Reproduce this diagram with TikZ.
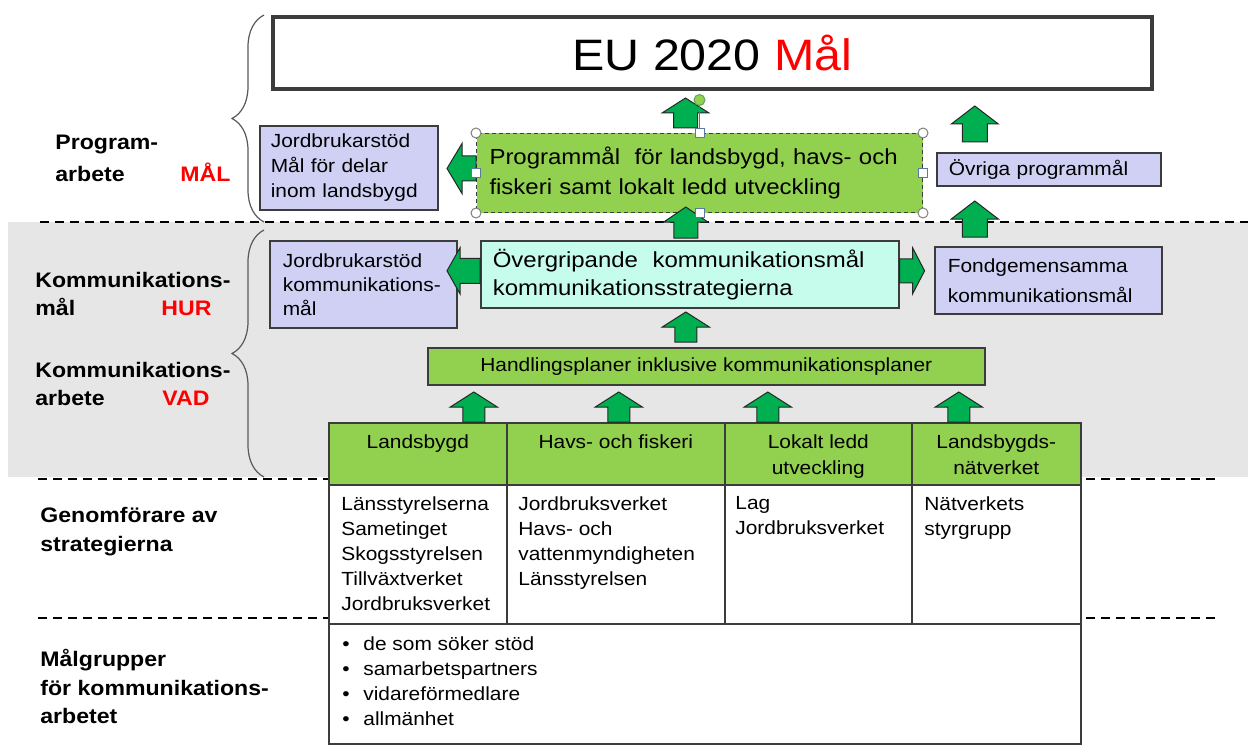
\documentclass[tikz,border=0pt]{standalone}
\usepackage{fontspec}
\setmainfont[FakeStretch=1.1]{Liberation Sans}
\usetikzlibrary{decorations.pathreplacing,calc}
\definecolor{lgreen}{HTML}{92D050}
\definecolor{agreen}{HTML}{00B050}
\definecolor{lav}{RGB}{208,208,245}
\definecolor{mint}{RGB}{198,252,236}
\definecolor{band}{RGB}{230,230,230}
\definecolor{edge}{RGB}{60,60,60}
\definecolor{handleblue}{RGB}{90,120,160}
\newcommand\fsSmall{\fontsize{9.5}{12.5}\selectfont}
\begin{document}
\begin{tikzpicture}[x=0.5pt,y=-0.5pt,
  box/.style={draw=edge, line width=0.8pt, rectangle, inner ysep=0pt, align=left, anchor=north west},
  lavbox/.style={box, fill=lav, font=\fsSmall},
  cell/.style={draw=edge, line width=0.8pt, rectangle, inner sep=0pt, anchor=north west, minimum height=#1},
  lab/.style={font=\bfseries\fontsize{10.5}{14}\selectfont, align=left, inner sep=0pt, anchor=north west},
  redlab/.style={font=\bfseries\fontsize{10.5}{14}\selectfont, text=red, inner sep=0pt, anchor=base west},
  ctext/.style={font=\fsSmall, align=left, inner sep=0pt, anchor=north west},
  htext/.style={font=\fontsize{9.5}{13}\selectfont, align=center, inner sep=0pt, anchor=north},
  sepline/.style={line width=1.4pt, dash pattern=on 4.5pt off 3pt},
  bracesty/.style={draw=edge!85, line width=0.6pt, decorate, decoration={brace, amplitude=16pt}},
  arrowsty/.style={fill=agreen, draw=black!85, line width=0.5pt, line join=miter},
  hcirc/.style={draw=gray, fill=white, line width=0.5pt},
  hsq/.style={draw=handleblue, fill=white, line width=0.5pt, rectangle, minimum size=4.5pt, inner sep=0pt},
  pics/uparr/.style n args={4}{code={\path[arrowsty] (-#2,0) -- (-#2,-#4) -- (-#1,-#4) -- (0,-#3) -- (#1,-#4) -- (#2,-#4) -- (#2,0) -- cycle;}},
  pics/larr/.style n args={4}{code={\path[arrowsty] (0,-#4) -- (-#2,-#4) -- (-#2,-#3) -- (-#1,0) -- (-#2,#3) -- (-#2,#4) -- (0,#4) -- cycle;}},
  pics/rarr/.style n args={4}{code={\path[arrowsty] (0,-#4) -- (#2,-#4) -- (#2,-#3) -- (#1,0) -- (#2,#3) -- (#2,#4) -- (0,#4) -- cycle;}}
]
\useasboundingbox (0,0) rectangle (1248,749);

% grey band
\fill[band] (8,222) rectangle (1248,477);

% separators
\draw[sepline] (40,222) -- (1248,222);
\draw[sepline] (38,479) -- (328,479);
\draw[sepline] (1086,479) -- (1217,479);
\draw[sepline] (38,618) -- (328,618);
\draw[sepline] (1086,618) -- (1217,618);

% braces
\draw[bracesty] (264,222) -- (264,15);
\draw[bracesty] (264,477) -- (264,230);

% left labels
\node[lab, font=\bfseries\fontsize{10.5}{16}\selectfont] (l1) at (55,135) {Program-\\arbete};
\node[redlab] (r1) at (180,182) {MÅL};
\node[lab] (l2) at (35,272) {Kommunikations-\\mål};
\node[redlab] (r2) at (161,315) {HUR};
\node[lab] (l3) at (35,362) {Kommunikations-\\arbete};
\node[redlab] (r3) at (162,405) {VAD};
\node[lab, font=\bfseries\fontsize{10.5}{14.5}\selectfont] (l4) at (40,507) {Genomförare av\\strategierna};
\node[lab, font=\bfseries\fontsize{10.5}{14.25}\selectfont] (l5) at (40,649) {Målgrupper\\för kommunikations-\\arbetet};

% top box
\node[box, line width=1.8pt, minimum width=439.5pt, minimum height=36pt, align=center, font=\fontsize{22}{24}\selectfont, inner xsep=0pt] (eu) at (271,15) {EU 2020 \textcolor{red}{Mål}};

% program level
\node[lavbox, text width=78pt, inner xsep=5.5pt, minimum height=42pt] (jb1) at (259,125) {Jordbrukarstöd\\Mål för delar\\inom landsbygd};
\node[box, draw=edge, line width=0.5pt, dash pattern=on 2pt off 1.5pt, fill=lgreen, text width=210pt, inner xsep=6.5pt, minimum height=39.5pt, font=\fontsize{10.9}{15}\selectfont] (prog) at (476,133) {Programmål~ för landsbygd, havs- och\\fiskeri samt lokalt ledd utveckling};
\node[lavbox, text width=100pt, inner xsep=6pt, minimum height=16.5pt, font=\fontsize{9.5}{12}\selectfont] (ovr) at (936,152) {Övriga programmål};

% communication level
\node[lavbox, text width=80.5pt, inner xsep=6.5pt, minimum height=43.5pt, font=\fontsize{9.5}{12}\selectfont] (jb2) at (269,240) {Jordbrukarstöd\\kommunikations-\\mål};
\node[box, fill=mint, text width=197pt, inner xsep=6pt, minimum height=33.5pt, font=\fontsize{10.9}{14}\selectfont] (overg) at (480,240) {Övergripande~ kommunikationsmål\\kommunikationsstrategierna};
\node[lavbox, text width=100.5pt, inner xsep=6.5pt, minimum height=33.5pt, font=\fontsize{9.5}{15}\selectfont] (fond) at (934,246) {Fondgemensamma\\kommunikationsmål};
\node[box, fill=lgreen, minimum width=278.5pt, minimum height=18.5pt, align=center, font=\fsSmall, inner xsep=0pt] (handl) at (427,347) {Handlingsplaner inklusive kommunikationsplaner};

% table
\node[cell=31pt, fill=lgreen, minimum width=89pt] (h1) at (328,422) {};
\node[cell=31pt, fill=lgreen, minimum width=109pt] (h2) at (506,422) {};
\node[cell=31pt, fill=lgreen, minimum width=93.5pt] (h3) at (724,422) {};
\node[cell=31pt, fill=lgreen, minimum width=84.5pt] (h4) at (911,422) {};
\node[cell=69.5pt, fill=white, minimum width=89pt] (b1) at (328,484) {};
\node[cell=69.5pt, fill=white, minimum width=109pt] (b2) at (506,484) {};
\node[cell=69.5pt, fill=white, minimum width=93.5pt] (b3) at (724,484) {};
\node[cell=69.5pt, fill=white, minimum width=84.5pt] (b4) at (911,484) {};
\node[cell=60pt, fill=white, minimum width=376pt] (tg) at (328,623) {};

\node[htext] (t1) at ($(h1.north)+(0,12)$) {Landsbygd};
\node[htext] (t2) at ($(h2.north)+(0,12)$) {Havs- och fiskeri};
\node[htext] (t3) at ($(h3.north)+(0,12)$) {Lokalt ledd\\utveckling};
\node[htext] (t4) at ($(h4.north)+(0,12)$) {Landsbygds-\\nätverket};

\node[ctext] (c1) at ($(b1.north west)+(13,12)$) {Länsstyrelserna\\Sametinget\\Skogsstyrelsen\\Tillväxtverket\\Jordbruksverket};
\node[ctext] (c2) at ($(b2.north west)+(12,12)$) {Jordbruksverket\\Havs- och\\vattenmyndigheten\\Länsstyrelsen};
\node[ctext] (c3) at ($(b3.north west)+(11,12)$) {Lag\\Jordbruksverket};
\node[ctext] (c4) at ($(b4.north west)+(13,12)$) {Nätverkets\\styrgrupp};
\node[ctext] (c5) at ($(tg.north west)+(14,13)$) {\makebox[10.5pt][l]{\textbullet}de som söker stöd\\\makebox[10.5pt][l]{\textbullet}samarbetspartners\\\makebox[10.5pt][l]{\textbullet}vidareförmedlare\\\makebox[10.5pt][l]{\textbullet}allmänhet};

% block arrows
\pic at ($(prog.north)+(-14,-5)$) {uparr={23.5}{12}{30}{15}};
\pic at ($(ovr.north)+(-74,-10)$) {uparr={23.5}{12.5}{36}{18}};
\pic at ($(fond.north)+(-73.5,-9)$) {uparr={23.5}{12.5}{36}{18}};
\pic at ($(overg.north)+(-4,-2)$) {uparr={22}{12}{31}{16}};
\pic at ($(handl.north)+(-20.5,-5)$) {uparr={23.5}{11}{30}{15}};
\pic at ($(h1.north)+(56,0)$) {uparr={23.5}{11}{30}{15}};
\pic at ($(h2.north)+(3,0)$) {uparr={23.5}{11}{30}{15}};
\pic at ($(h3.north)+(-50.5,0)$) {uparr={23.5}{11}{30}{15}};
\pic at ($(h4.north)+(-37.5,0)$) {uparr={23.5}{11}{30}{15}};
\pic at ($(prog.west)+(0,-4.5)$) {larr={29}{14}{25}{12.5}};
\pic at ($(overg.west)+(0,-3.5)$) {larr={33}{20}{23}{12.5}};
\pic at ($(overg.east)+(0,-3.5)$) {rarr={25}{13}{23}{12}};

% selection handles on the programme box
\coordinate (rot) at ($(prog.north)+(0,-33)$);
\draw[handleblue, line width=0.4pt] (rot) -- (prog.north);
\node[circle, fill=lgreen, draw=gray!70!green, line width=0.5pt, minimum size=5.5pt, inner sep=0pt] (rotc) at (rot) {};
\foreach \c in {north west, north east, south west, south east}
  \draw[hcirc] (prog.\c) circle[radius=2.5pt];
\foreach \c in {north, south, west, east}
  \node[hsq] at (prog.\c) {};
\end{tikzpicture}
\end{document}
